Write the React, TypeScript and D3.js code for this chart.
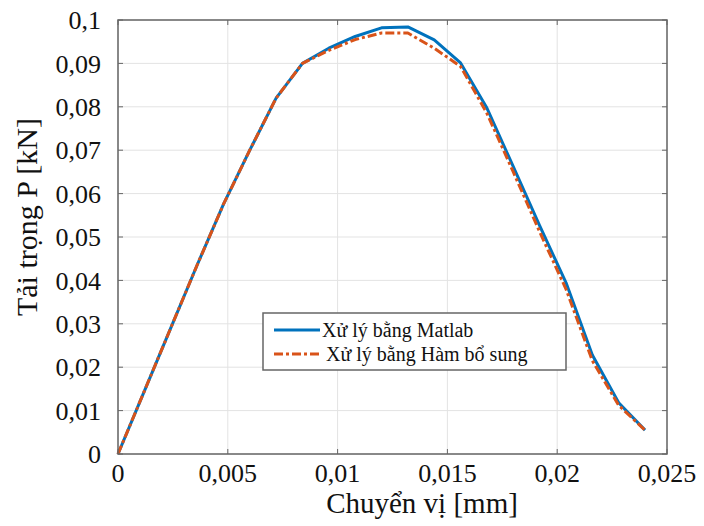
import React from 'react';
import * as d3 from 'd3';

// displacement [mm]
const xValues = [0, 0.0012, 0.0024, 0.0036, 0.0048, 0.006, 0.0072, 0.0084, 0.0096, 0.0108, 0.012, 0.0132, 0.0144, 0.0156, 0.0168, 0.018, 0.0192, 0.0204, 0.0216, 0.0228, 0.024];
// load [kN]
const matlab = [0, 0.0145, 0.029, 0.0435, 0.0575, 0.070, 0.082, 0.090, 0.0935, 0.0962, 0.0982, 0.0984, 0.0954, 0.0901, 0.0797, 0.0662, 0.0526, 0.0395, 0.0228, 0.0118, 0.0055];
const hamBoSung = [0, 0.0145, 0.029, 0.0435, 0.0575, 0.070, 0.082, 0.090, 0.093, 0.0955, 0.0970, 0.0970, 0.0935, 0.0893, 0.0785, 0.0650, 0.0512, 0.0380, 0.0215, 0.0112, 0.0055];
const xTicks = [0, 0.005, 0.01, 0.015, 0.02, 0.025];
const yTicks = [0, 0.01, 0.02, 0.03, 0.04, 0.05, 0.06, 0.07, 0.08, 0.09, 0.1];
const legendLabels = ['Xử lý bằng Matlab', 'Xử lý bằng Hàm bổ sung'];

const fmt = (v: number) => String(v).replace('.', ',');

const App = () => {
  const width = 704;
  const height = 526;
  const m = { left: 118, top: 20, right: 667, bottom: 454 };

  const x = d3.scaleLinear().domain([0, 0.025]).range([m.left, m.right]);
  const y = d3.scaleLinear().domain([0, 0.1]).range([m.bottom, m.top]);

  const line = d3.line<number>()
    .x((_, i) => x(xValues[i]))
    .y((d) => y(d));

  const font = '"Liberation Serif", "Times New Roman", serif';
  const axisColor = '#666';

  return (
    <svg width={width} height={height} style={{ position: 'absolute', left: 0, top: 0 }} fontFamily={font}>
      <rect width={width} height={height} fill="#fff" />

      {/* grid */}
      {xTicks.map((t) => (
        <line key={'gx' + t} x1={x(t)} x2={x(t)} y1={m.top} y2={m.bottom} stroke="#e3e3e3" strokeWidth={1} />
      ))}
      {yTicks.map((t) => (
        <line key={'gy' + t} x1={m.left} x2={m.right} y1={y(t)} y2={y(t)} stroke="#e3e3e3" strokeWidth={1} />
      ))}

      {/* inner ticks on all sides */}
      {xTicks.map((t) => (
        <g key={'tx' + t}>
          <line x1={x(t)} x2={x(t)} y1={m.bottom} y2={m.bottom - 5} stroke={axisColor} strokeWidth={1} />
          <line x1={x(t)} x2={x(t)} y1={m.top} y2={m.top + 5} stroke={axisColor} strokeWidth={1} />
        </g>
      ))}
      {yTicks.map((t) => (
        <g key={'ty' + t}>
          <line x1={m.left} x2={m.left + 5} y1={y(t)} y2={y(t)} stroke={axisColor} strokeWidth={1} />
          <line x1={m.right} x2={m.right - 5} y1={y(t)} y2={y(t)} stroke={axisColor} strokeWidth={1} />
        </g>
      ))}

      {/* series */}
      <path d={line(matlab) || ''} fill="none" stroke="#0072BD" strokeWidth={3} strokeLinejoin="round" />
      <path d={line(hamBoSung) || ''} fill="none" stroke="#D95319" strokeWidth={3} strokeDasharray="9 3 3 3" strokeLinejoin="round" />

      {/* frame */}
      <rect x={m.left} y={m.top} width={m.right - m.left} height={m.bottom - m.top} fill="none" stroke={axisColor} strokeWidth={1.5} />

      {/* tick labels */}
      {xTicks.map((t) => (
        <text key={'lx' + t} x={x(t)} y={482} textAnchor="middle" fontSize={26} fill="#111">
          {fmt(t)}
        </text>
      ))}
      {yTicks.map((t) => (
        <text key={'ly' + t} x={101} y={y(t)} dy="0.35em" textAnchor="end" fontSize={26} fill="#111">
          {fmt(t)}
        </text>
      ))}

      {/* axis titles */}
      <text x={422} y={513} textAnchor="middle" fontSize={29} fill="#111">Chuyển vị [mm]</text>
      <text transform={`translate(37, 217) rotate(-90)`} textAnchor="middle" fontSize={30} fill="#111">Tải trọng P [kN]</text>

      {/* legend */}
      <g>
        <rect x={263} y={313} width={303} height={57} fill="#fff" stroke={axisColor} strokeWidth={1.5} />
        <line x1={274} x2={320} y1={330} y2={330} stroke="#0072BD" strokeWidth={3} />
        <line x1={274} x2={320} y1={354} y2={354} stroke="#D95319" strokeWidth={3} strokeDasharray="9 3 3 3" />
        <text x={322} y={330} dy="0.33em" fontSize={20} fill="#111">{legendLabels[0]}</text>
        <text x={326} y={354} dy="0.33em" fontSize={20} fill="#111">{legendLabels[1]}</text>
      </g>
    </svg>
  );
};

export default App;
